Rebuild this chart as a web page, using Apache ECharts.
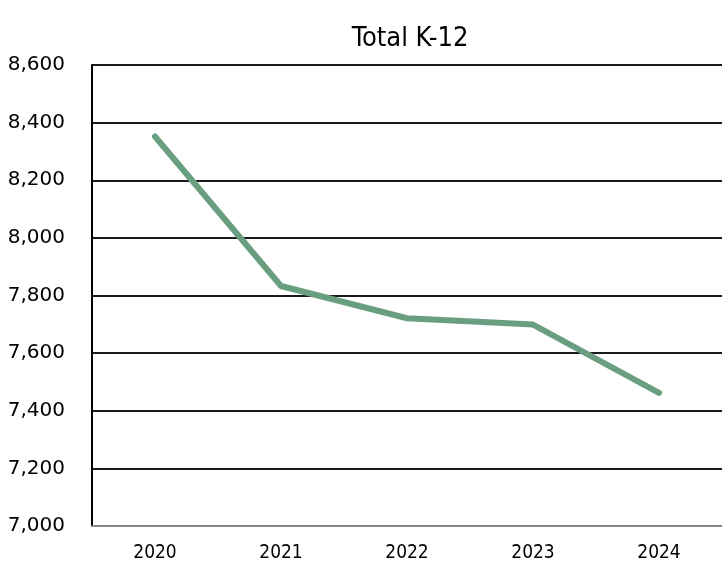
<!DOCTYPE html>
<html><head><meta charset="utf-8">
<script src="https://cdn.jsdelivr.net/npm/echarts@6/dist/echarts.min.js"></script>
<style>html,body{margin:0;padding:0;background:#fff}#c{width:722px;height:566px}</style>
</head><body><div id="c"></div>
<script>
const title = "Total K-12";
const years = ["2020", "2021", "2022", "2023", "2024"];
const totals = [8352, 7833, 7721, 7699, 7462];
const yMin = 7000, yMax = 8600, yStep = 200;

const chart = echarts.init(document.getElementById('c'), null, {renderer: 'canvas'});
const fontN = "'Liberation Sans Narrow', 'DejaVu Sans Condensed', sans-serif";
const fontY = "'DejaVu Sans', sans-serif";
chart.setOption({
  animation: false,
  backgroundColor: '#ffffff',
  title: {text: title, left: 405, top: 20, textAlign: 'center',
    textStyle: {fontFamily: fontN, fontSize: 27, fontWeight: 'normal', color: '#000'}},
  grid: {left: 92, top: 65, width: 644, height: 461, containLabel: false},
  xAxis: {type: 'category', data: years, boundaryGap: true,
    axisLine: {show: true, lineStyle: {color: '#aaaaaa', width: 1.5}},
    axisTick: {show: false},
    axisLabel: {margin: 18, fontFamily: fontN, fontSize: 19, color: '#000'},
    splitLine: {show: false}},
  yAxis: {type: 'value', min: yMin, max: yMax, interval: yStep,
    axisLine: {show: true, lineStyle: {color: '#000', width: 2}},
    axisTick: {show: false},
    axisLabel: {margin: 27, fontFamily: fontY, fontSize: 20, color: '#000',
      formatter: v => v.toLocaleString('en-US')},
    splitLine: {show: true, lineStyle: {color: '#1a1a1a', width: 1.8}}},
  series: [{type: 'line', data: totals, symbol: 'none',
    lineStyle: {color: '#6a9e80', width: 6, cap: 'round', join: 'round'}}]
});
</script></body></html>
